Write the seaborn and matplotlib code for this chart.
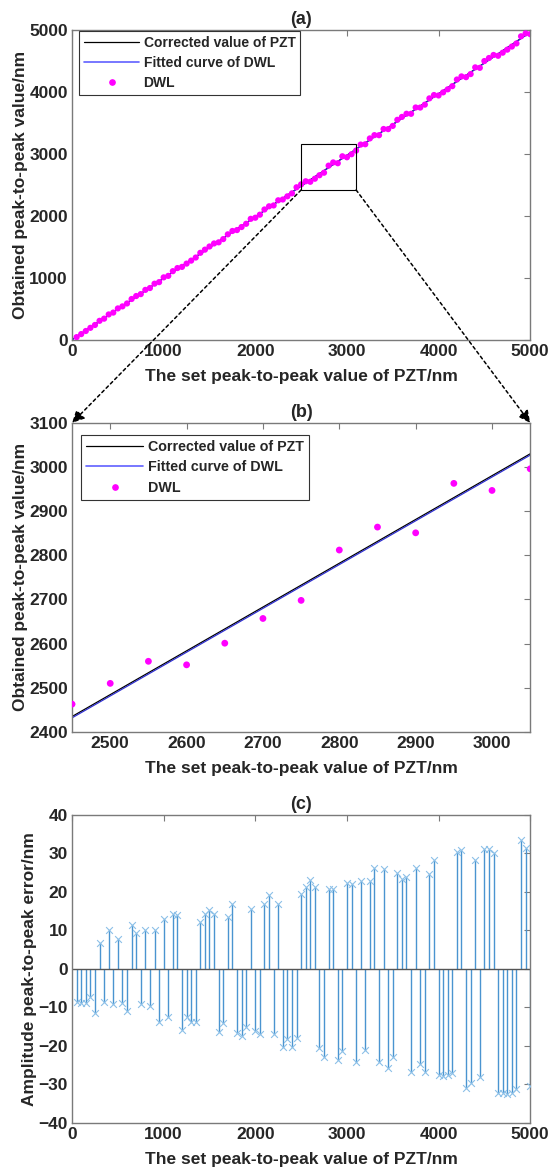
import numpy as np
import matplotlib
matplotlib.use("Agg")
import matplotlib.pyplot as plt
from matplotlib.patches import Rectangle, ConnectionPatch
from matplotlib.lines import Line2D
import seaborn as sns

sns.set_theme(style="white")
plt.rcParams['font.family'] = ['Liberation Sans', 'DejaVu Sans']
plt.rcParams['font.weight'] = 'bold'
plt.rcParams['axes.labelweight'] = 'bold'
plt.rcParams['axes.titleweight'] = 'bold'

# valores de consigna del PZT (nm)
pzt_set = np.arange(50, 5001, 50)

# valores medidos por el DWL (nm)
dwl = [46, 95, 145, 196, 242, 309, 344, 412, 442, 509,
       542, 589, 661, 709, 740, 808, 838, 908, 933, 1010,
       1034, 1110, 1160, 1179, 1232, 1280, 1330, 1406, 1457, 1508,
       1557, 1575, 1627, 1704, 1758, 1773, 1822, 1874, 1954, 1972,
       2021, 2105, 2156, 2170, 2253, 2266, 2317, 2365, 2463, 2510,
       2560, 2552, 2601, 2657, 2698, 2812, 2864, 2851, 2963, 2947,
       2996, 3055, 3152, 3157, 3251, 3304, 3303, 3403, 3401, 3453,
       3551, 3598, 3649, 3648, 3750, 3749, 3796, 3897, 3951, 3944,
       3994, 4043, 4094, 4201, 4251, 4239, 4289, 4397, 4390, 4499,
       4548, 4597, 4584, 4634, 4683, 4733, 4783, 4898, 4945, 4933]

# rectas: valor corregido del PZT y ajuste del DWL
line_x = [0, 5000]
corrected_y = [5, 4964]
fitted_y = [2, 4961]

# error pico a pico de amplitud (nm)
error = [-8.6, -8.8, -8.8, -7.2, -11.4, 6.8, -8.5, 10.2, -9.0, 7.9,
         -8.8, -10.8, 11.5, 9.4, -9.2, 10.0, -9.6, 10.0, -13.8, 13.0,
         -12.4, 14.4, 14.0, -15.8, -12.5, -13.8, -13.8, 12.2, 14.4, 15.4,
         14.4, -16.5, -14.0, 13.4, 17.0, -16.7, -17.5, -15.0, 15.6, -16.0,
         -17.0, 17.0, 19.1, -17.0, 16.8, -20.2, -18.3, -20.2, -18.0, 19.5,
         21.2, 23.0, 21.2, -20.5, -22.8, 20.7, 20.7, -23.7, -21.2, 22.2,
         22.0, -24.1, 22.8, -21.0, 22.8, 26.1, -24.1, 26.0, -25.8, -22.8,
         25.0, 23.3, 24.0, -26.8, 26.1, -24.6, -26.8, 24.7, 28.4, -27.6,
         -27.9, -27.6, -27.0, 30.5, 30.9, -30.8, -29.5, 28.2, -28.1, 31.2,
         31.2, 30.2, -32.2, -32.3, -32.6, -32.2, -31.3, 33.6, 31.5, -30.4]

xlab = 'The set peak-to-peak value of PZT/nm'
ylab = 'Obtained peak-to-peak value/nm'
FS = 12.5
AXC = '#7a7a7a'

fig = plt.figure(figsize=(5.5, 11.76), dpi=100)
ax_a = fig.add_axes([0.131, 0.7109, 0.833, 0.2636])
ax_b = fig.add_axes([0.131, 0.3776, 0.833, 0.2628])
ax_c = fig.add_axes([0.131, 0.0451, 0.833, 0.2619])


def estilo(ax):
    for s in ax.spines.values():
        s.set_color(AXC)
        s.set_linewidth(1.0)
    ax.tick_params(direction='in', top=True, right=True, length=4.5,
                   width=0.8, color=AXC, labelsize=FS, pad=3)
    for t in ax.get_xticklabels() + ax.get_yticklabels():
        t.set_fontweight('bold')


def curvas(ax, s):
    sns.lineplot(x=line_x, y=corrected_y, ax=ax, color='black', lw=0.9)
    sns.lineplot(x=line_x, y=fitted_y, ax=ax, color='#3030d0', lw=0.9)
    sns.scatterplot(x=pzt_set, y=dwl, ax=ax, color='#ff00ff', s=s,
                    edgecolor='none', zorder=3)


def leyenda(ax, fs, ancla):
    h = [Line2D([], [], color='black', lw=0.9),
         Line2D([], [], color='#6060ff', lw=1.2),
         Line2D([], [], color='#ff00ff', marker='o', ls='none', ms=3.8)]
    lab = ['Corrected value of PZT', 'Fitted curve of DWL', 'DWL']
    leg = ax.legend(h, lab, loc='upper left', bbox_to_anchor=ancla,
                    frameon=True, fancybox=False, edgecolor='#333333',
                    framealpha=1, handlelength=4.0, borderpad=0.35,
                    labelspacing=0.45, handletextpad=0.3, borderaxespad=0,
                    prop={'weight': 'bold', 'size': fs})
    leg.get_frame().set_linewidth(0.8)


# (a)
curvas(ax_a, 20)
ax_a.add_patch(Rectangle((2500, 2420), 600, 740, fill=False,
                         ec='black', lw=0.8, zorder=4))
ax_a.set_xlim(0, 5000)
ax_a.set_ylim(0, 5000)
ax_a.set_xticks(range(0, 5001, 1000))
ax_a.set_yticks(range(0, 5001, 1000))
ax_a.set_xlabel(xlab, fontsize=FS, labelpad=7)
ax_a.set_ylabel(ylab, fontsize=FS, labelpad=1)
ax_a.set_title('(a)', fontsize=13, pad=4)
leyenda(ax_a, 10, (0.015, 0.997))
estilo(ax_a)

# (b)
curvas(ax_b, 24)
ax_b.set_xlim(2450, 3050)
ax_b.set_ylim(2400, 3100)
ax_b.set_xticks(range(2500, 3001, 100))
ax_b.set_yticks(range(2400, 3101, 100))
ax_b.set_xlabel(xlab, fontsize=FS, labelpad=7)
ax_b.set_ylabel(ylab, fontsize=FS, labelpad=1)
ax_b.set_title('(b)', fontsize=13, pad=4)
leyenda(ax_b, 10.3, (0.02, 0.962))
estilo(ax_b)

# flechas de ampliación: esquinas del recuadro de (a) -> esquinas de (b)
for xa, xb in [(2500, 2450), (3100, 3050)]:
    con = ConnectionPatch(xyA=(xa, 2420), coordsA=ax_a.transData,
                          xyB=(xb, 3100), coordsB=ax_b.transData,
                          arrowstyle='-|>,head_length=0.6,head_width=0.3',
                          linestyle=(0, (2, 2)), color='black', lw=1.1,
                          mutation_scale=12)
    fig.add_artist(con)

# (c)
ax_c.vlines(pzt_set, 0, error, color='#4a94d0', lw=1.0)
sns.scatterplot(x=pzt_set, y=error, ax=ax_c, marker='x', color='#8cc0e8',
                s=24, linewidth=0.8, zorder=3)
ax_c.axhline(0, color='#555555', lw=1.0, zorder=2)
ax_c.set_xlim(0, 5000)
ax_c.set_ylim(-40, 40)
ax_c.set_xticks(range(0, 5001, 1000))
ax_c.set_yticks(range(-40, 41, 10))
ax_c.set_xlabel(xlab, fontsize=FS, labelpad=7)
ax_c.set_ylabel('Amplitude peak-to-peak error/nm', fontsize=FS, labelpad=1)
ax_c.set_title('(c)', fontsize=13, pad=4)
estilo(ax_c)

fig.savefig('out.png', dpi=100)
